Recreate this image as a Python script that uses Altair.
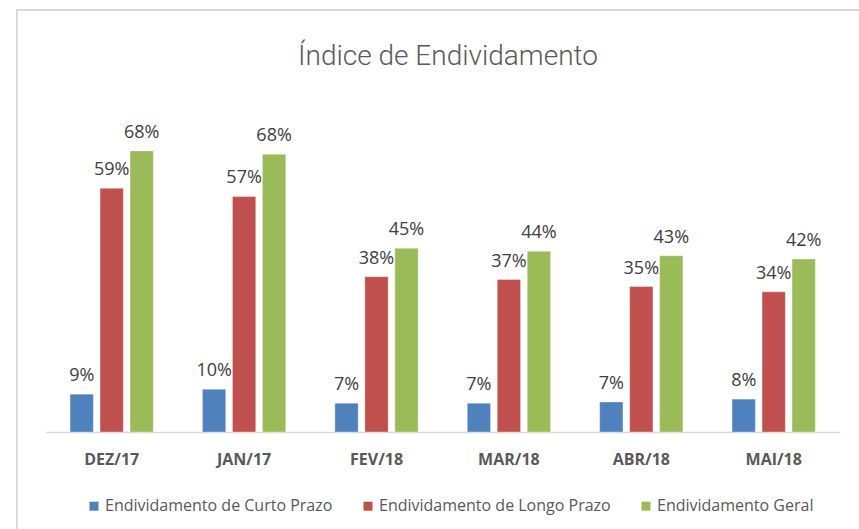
import altair as alt
import pandas as pd

months = ["DEZ/17", "JAN/17", "FEV/18", "MAR/18", "ABR/18", "MAI/18"]
series = ["Endividamento de Curto Prazo", "Endividamento de Longo Prazo", "Endividamento Geral"]
curto = [0.092, 0.104, 0.070, 0.070, 0.073, 0.080]
longo = [0.593, 0.573, 0.378, 0.371, 0.354, 0.341]
geral = [0.684, 0.676, 0.447, 0.440, 0.429, 0.421]
colors = ["#4F81BD", "#C0504D", "#9BBB59"]

rows = []
for i, m in enumerate(months):
    for s, vals in zip(series, [curto, longo, geral]):
        rows.append({"mes": m, "serie": s, "valor": vals[i]})
df = pd.DataFrame(rows)

W, H = 794.4, 328.8
PL, PT = 45.5, 103.2

x_enc = alt.X("mes:N", sort=months, title=None,
              scale=alt.Scale(paddingInner=0.371, paddingOuter=0.1855),
              axis=alt.Axis(labelAngle=0, labelFont="Open Sans", labelFontWeight="bold",
                            labelFontSize=16, labelColor="#595959", ticks=False, tickSize=0,
                            labelPadding=19, domainColor="#D9D9D9", domainWidth=1.5))
xo_enc = alt.XOffset("serie:N", sort=series, scale=alt.Scale(paddingInner=0.223, paddingOuter=0))
y_enc = alt.Y("valor:Q", scale=alt.Scale(domain=[0, 0.8], nice=False), axis=None)

base = alt.Chart(df)

bars = base.mark_bar(stroke="#ffffff", strokeOpacity=0.35, strokeWidth=1).encode(
    x=x_enc, xOffset=xo_enc, y=y_enc,
    color=alt.Color("serie:N", sort=series,
                    scale=alt.Scale(domain=series, range=colors),
                    legend=alt.Legend(orient="none", legendX=40.5, legendY=395,
                                      direction="horizontal", title=None,
                                      symbolType="square", symbolSize=81, symbolStrokeWidth=0,
                                      labelFont="Open Sans", labelFontSize=16,
                                      labelColor="#595959", labelOffset=3,
                                      labelLimit=400, columnPadding=27)),
)

labels = base.mark_text(font="Open Sans", fontSize=18, color="#404040",
                        baseline="alphabetic", dy=-13).encode(
    x=x_enc, xOffset=xo_enc, y=y_enc,
    text=alt.Text("valor:Q", format=".0%"),
)

title = alt.Chart(pd.DataFrame({"t": ["Índice de Endividamento"]})).mark_text(
    font="Roboto", fontWeight=300, fontSize=28, color="#595959",
    align="center", baseline="alphabetic").encode(
    x=alt.value(448 - PL), y=alt.value(65 - PT), text="t:N")

frame = alt.Chart(pd.DataFrame({"a": [0]})).mark_rect(
    fill=None, stroke="#D9D9D9", strokeWidth=2).encode(
    x=alt.value(17 - PL), x2=alt.value(900), y=alt.value(10 - PT), y2=alt.value(600))

chart = alt.layer(frame, bars, labels, title).properties(
    width=W, height=H,
    background="#ffffff",
    autosize=alt.AutoSizeParams(type="none"),
    padding={"left": PL, "top": PT, "right": 859 - PL - W, "bottom": 529 - PT - H},
).configure_view(stroke=None)

chart.save("out.html", embed_options={"renderer": "svg", "actions": False})
